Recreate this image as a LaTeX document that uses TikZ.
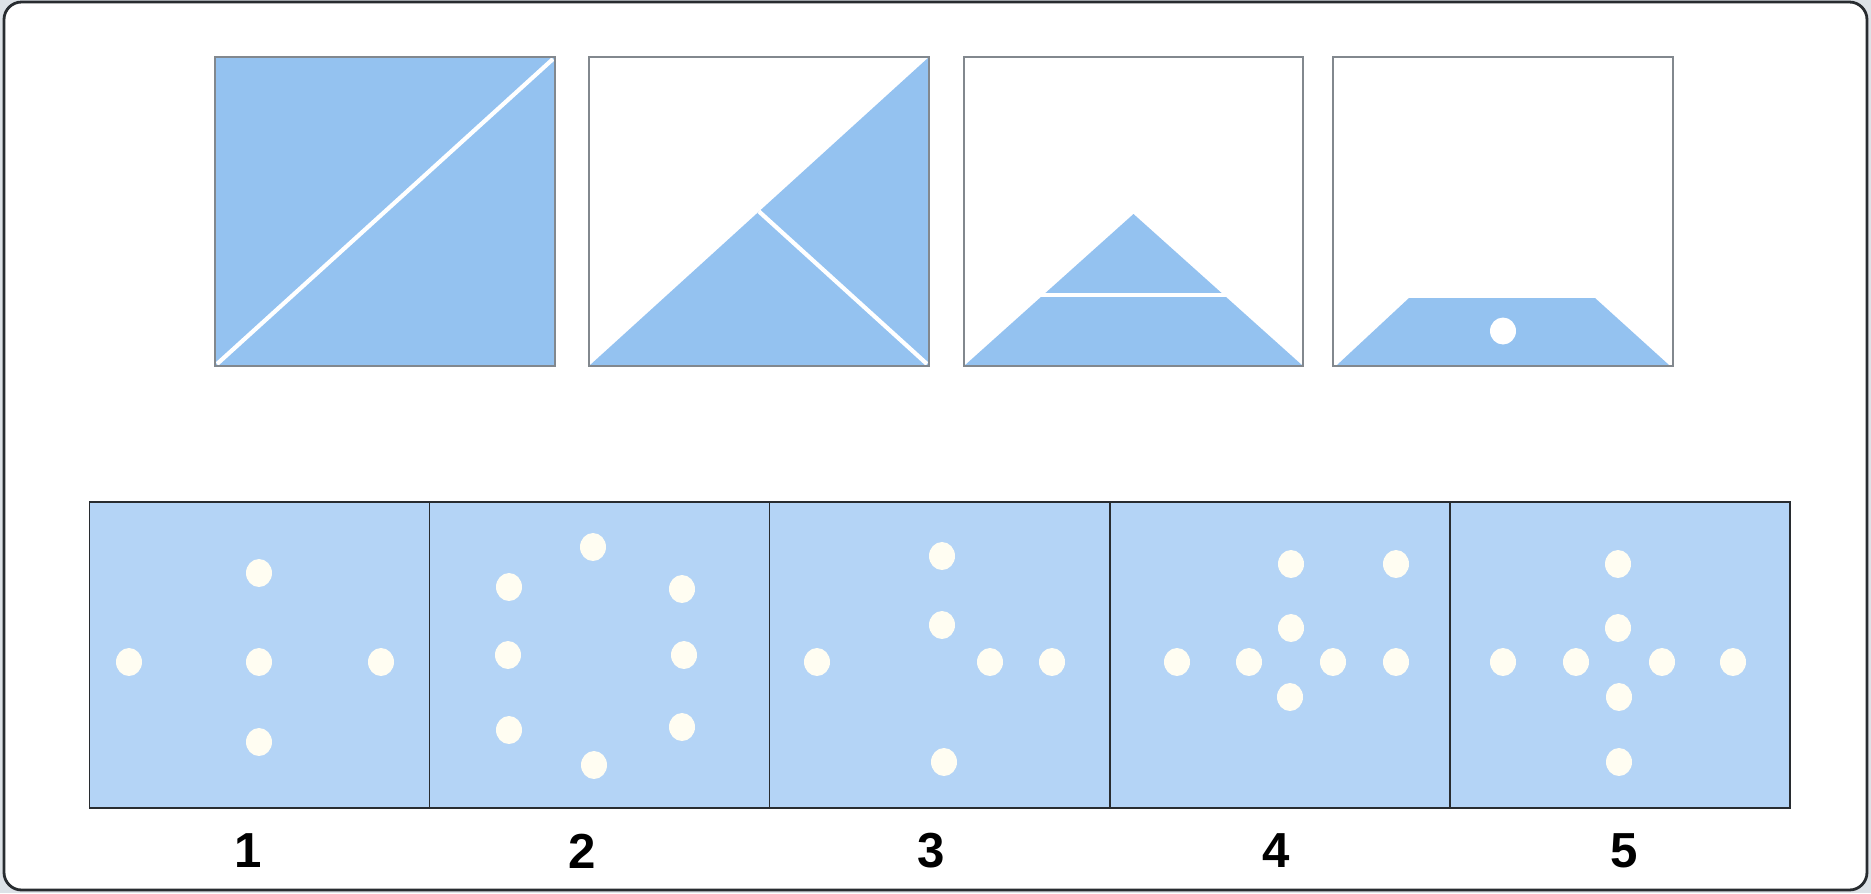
\documentclass[tikz,border=0pt]{standalone}
\usepackage{fontspec}
\setmainfont{Liberation Sans}
\definecolor{pageback}{RGB}{221,226,231}
\definecolor{framegray}{RGB}{40,44,48}
\definecolor{tileblue}{RGB}{148,194,240}
\definecolor{cellblue}{RGB}{180,212,246}
\definecolor{dotcream}{RGB}{255,253,242}
\definecolor{edgegray}{RGB}{130,136,142}
\begin{document}
\begin{tikzpicture}[x=0.1mm,y=-0.1mm,
  tile/.style={draw=edgegray,line width=0.55pt},
  cut/.style={white,line width=1.2pt},
  cell/.style={draw=framegray,line width=0.45pt},
  spot/.style={fill=dotcream},
  num/.style={font=\fontsize{14}{16}\selectfont\bfseries}]
% page and frame
\fill[pageback] (0,0) rectangle (1871,893);
\draw[fill=white,draw=framegray,line width=0.8pt,rounded corners=5pt] (4,2) rectangle (1867,890);
% folding steps
\fill[tileblue] (215,57) rectangle (555,366);
\draw[cut] (217,364) -- (553,59);
\draw[tile] (215,57) rectangle (555,366);
\fill[tileblue] (589,366) -- (929,57) -- (929,366) -- cycle;
\draw[cut] (759,211.5) -- (927,364);
\draw[tile] (589,57) rectangle (929,366);
\fill[tileblue] (964,366) -- (1133.5,214) -- (1303,366) -- cycle;
\draw[cut] (1030,295) -- (1240,295);
\draw[tile] (964,57) rectangle (1303,366);
\fill[tileblue] (1337,365) -- (1409,298) -- (1595,298) -- (1669,365) -- cycle;
\fill[white] (1503,331) ellipse [x radius=1.3mm,y radius=1.35mm];
\draw[tile] (1333,57) rectangle (1673,366);
% answer cells
\fill[cellblue] (89.5,502) rectangle (1790,808);
\foreach \x in {429.6,769.6,1109.7,1449.7}
  \draw[cell] (\x,502) -- (\x,808);
\draw[cell] (89.5,502) rectangle (1790,808);
\foreach \x/\y in {129/662,259/573,259/662,259/742,381/662,
  593/547,509/587,682/589,508/655,684/655,509/730,682/727,594/765,
  942/556,942/625,817/662,990/662,1052/662,944/762,
  1291/564,1396/564,1291/628,1177/662,1249/662,1333/662,1396/662,1290/697,
  1618/564,1618/628,1503/662,1576/662,1662/662,1733/662,1619/697,1619/762}
  \fill[spot] (\x,\y) ellipse [x radius=1.3mm,y radius=1.4mm];
\node[num] (n1) at (248,851) {1};
\node[num] (n2) at (582,851) {2};
\node[num] (n3) at (931,851) {3};
\node[num] (n4) at (1276,851) {4};
\node[num] (n5) at (1624,851) {5};
\end{tikzpicture}
\end{document}
